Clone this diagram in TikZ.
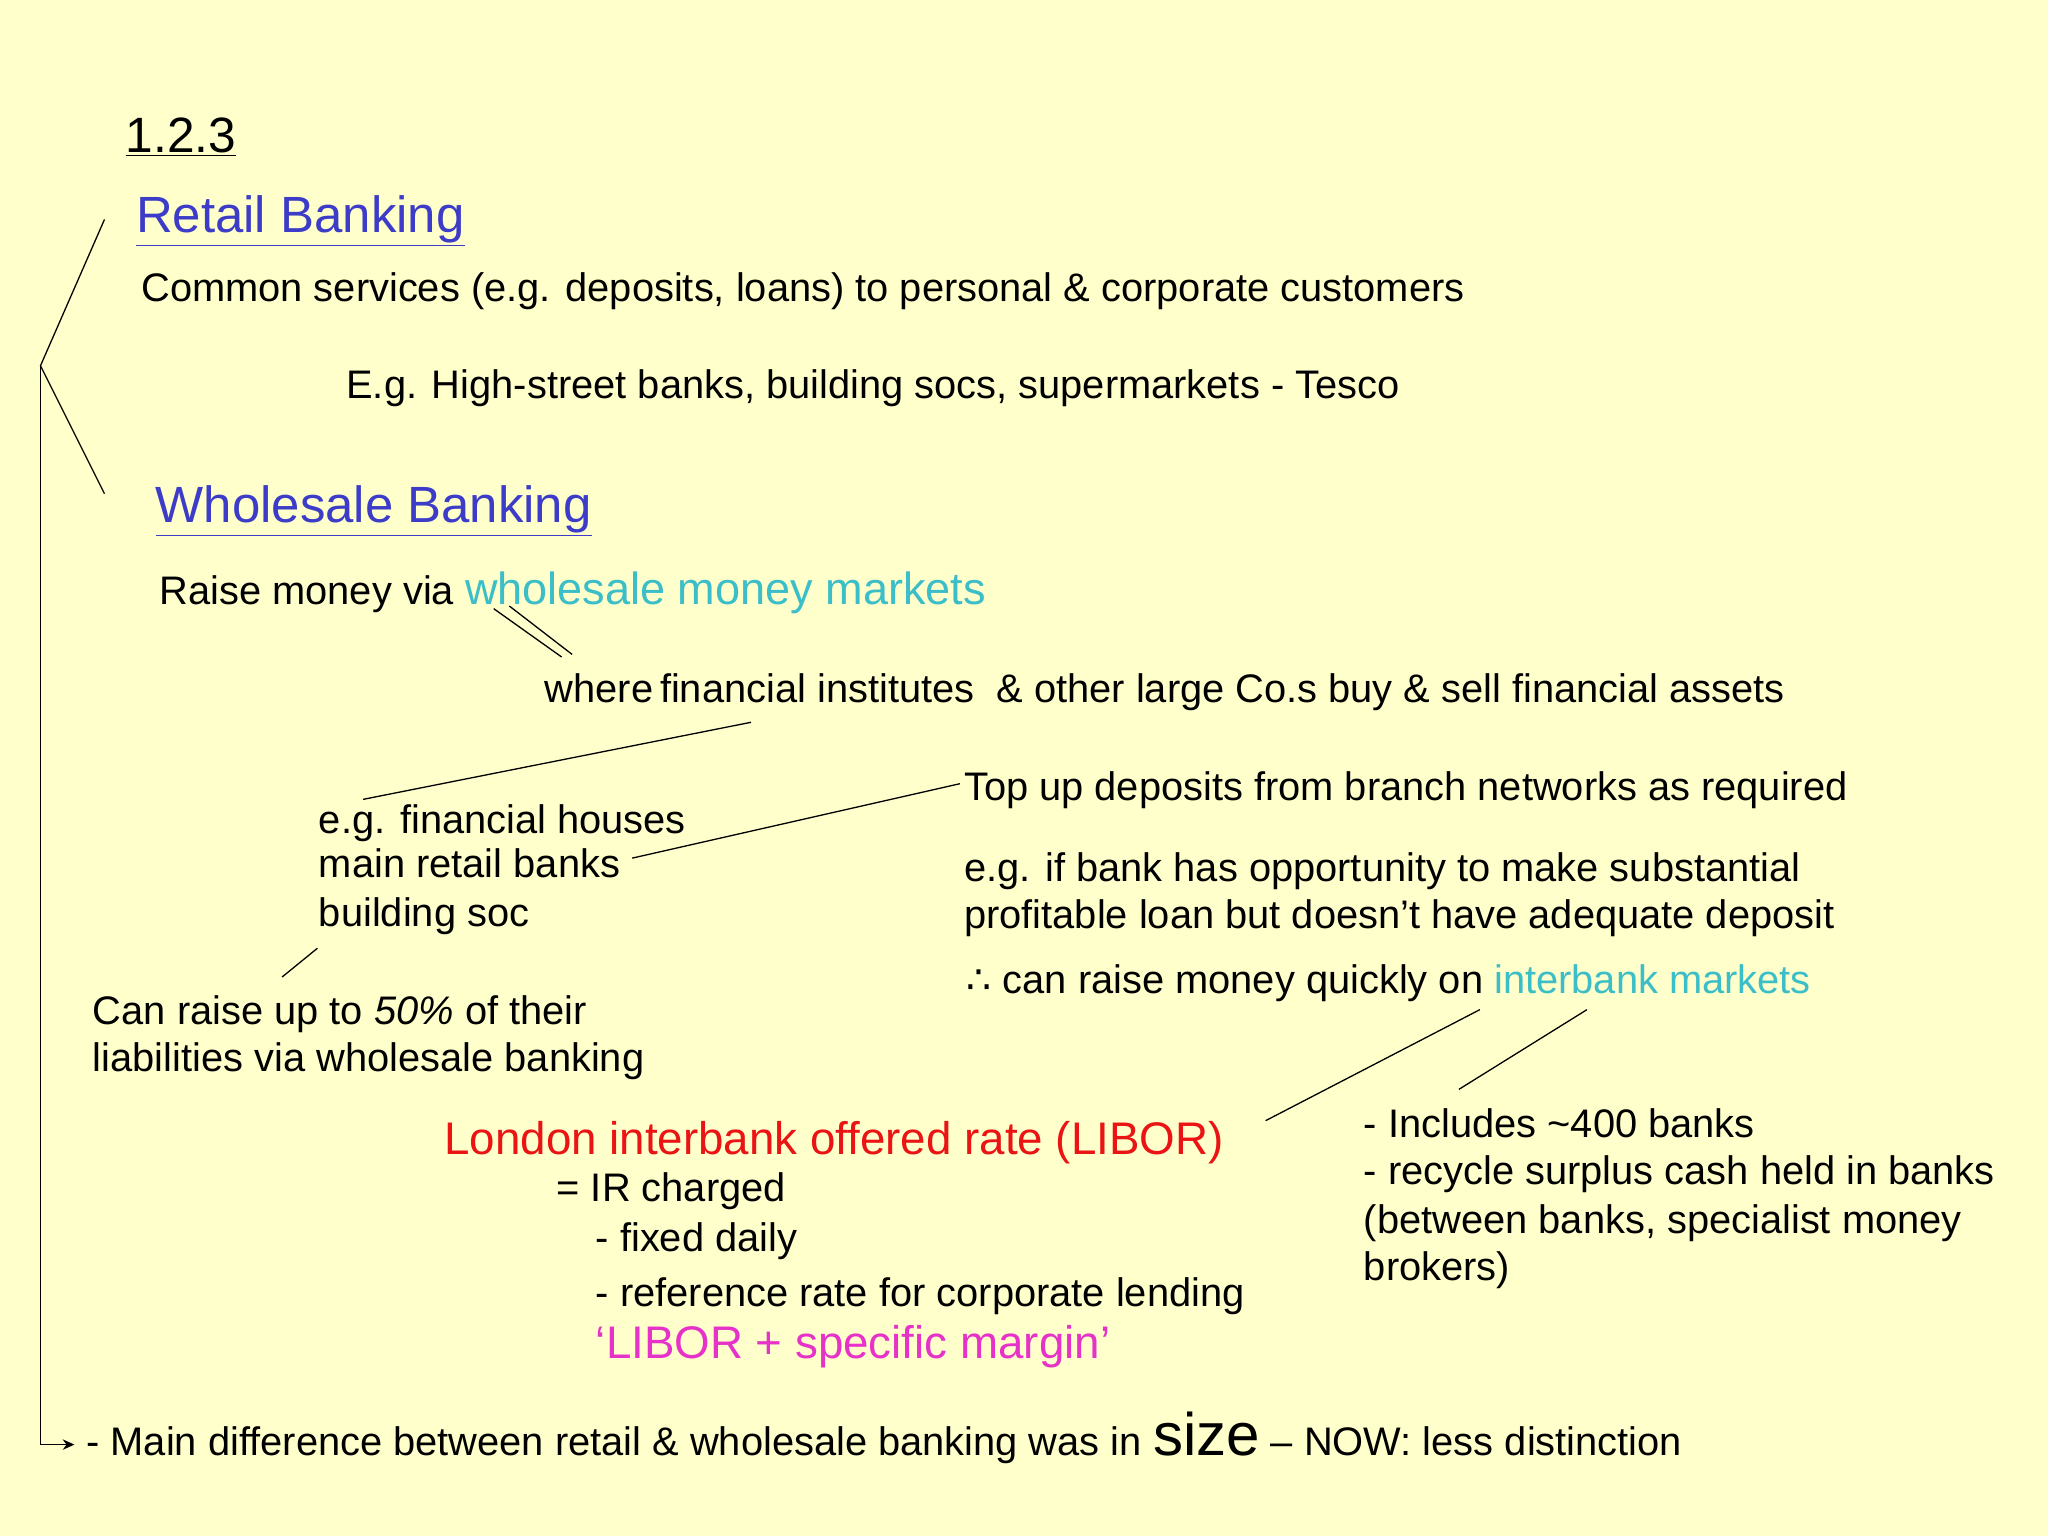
\documentclass[tikz,border=0pt]{standalone}
\usepackage{fontspec}
\usetikzlibrary{arrows.meta}
\setmainfont{Liberation Sans}
\newfontfamily\symf{DejaVu Sans}
\definecolor{bg}{RGB}{255,255,204}
\definecolor{hblue}{RGB}{60,60,200}
\definecolor{cy}{RGB}{60,190,200}
\definecolor{rd}{RGB}{235,20,20}
\definecolor{mg}{RGB}{230,50,200}
\begin{document}
\begin{tikzpicture}[x=1pt,y=-1pt,
  t/.style={anchor=base west,inner sep=0pt,font=\fontsize{30.5}{34}\selectfont},
  h/.style={anchor=base west,inner sep=0pt,font=\fontsize{39}{42}\selectfont,text=hblue},
  ln/.style={line width=1pt}]
\fill[bg] (0,0) rectangle (1568,1176);
\useasboundingbox (0,0) rectangle (1568,1176);
\node[t,font=\fontsize{38}{40}\selectfont] (n123) at (96,117) {\underline{1.2.3}};
\node[h] (ret) at (104,178) {\underline{Retail Banking}};
\node[t] (com) at (108,231) {Common services (e.g. deposits, loans) to personal \& corporate customers};
\node[t] (eg) at (265,305) {E.g. High-street banks, building socs, supermarkets - Tesco};
\node[h] (whl) at (119,400) {\underline{Wholesale Banking}};
\node[t] (rai) at (122,463) {Raise money via \textcolor{cy}{\fontsize{34.5}{36}\selectfont wholesale money markets}};
\node[t] (whe) at (417,538) {where\,financial institutes \ \& other large Co.s buy \& sell financial assets};
\node[t] (top) at (738,613) {Top up deposits from branch networks as required};
\node[t,align=left] (fh) at (244,638) {e.g. financial houses};
\node[t] (mr) at (244,672) {main retail banks};
\node[t] (bs) at (244,709) {building soc};
\node[t] (eb1) at (738,675) {e.g. if bank has opportunity to make substantial};
\node[t] (eb2) at (738,711) {profitable loan but doesn’t have adequate deposit};
\node[t] (cr) at (740,761) {{\symf\fontsize{30}{30}\selectfont ∴} can raise money quickly on \textcolor{cy}{interbank markets}};
\node[t] (cu1) at (71,784) {Can raise up to \textit{50\%} of their};
\node[t] (cu2) at (71,820) {liabilities via wholesale banking};
\node[t,text=rd,font=\fontsize{35}{38}\selectfont] (lib) at (340,884) {London interbank offered rate (LIBOR)};
\node[t] (ir) at (426,920) {= IR charged};
\node[t] (fd) at (456,958) {- fixed daily};
\node[t] (rr) at (456,1000) {- reference rate for corporate lending};
\node[t,text=mg,font=\fontsize{35}{38}\selectfont] (lm) at (456,1040) {‘LIBOR + specific margin’};
\node[t] (i1) at (1044,871) {- Includes \textasciitilde400 banks};
\node[t] (i2) at (1044,907) {- recycle surplus cash held in banks};
\node[t] (i3) at (1044,944) {(between banks, specialist money};
\node[t] (i4) at (1044,980) {brokers)};
\node[t] (mn) at (66,1114) {- Main difference between retail \& wholesale banking was in {\fontsize{46}{46}\selectfont size} – NOW: less distinction};
% connectors
\coordinate (a1) at (80,168); \coordinate (a2) at (31,280); \coordinate (a3) at (80,378);
\coordinate (a4) at (31,1106); \coordinate (a5) at (57,1106);
\draw[ln] (a1) -- (a2) -- (a3);
\draw[ln,-{Stealth[length=9pt,width=8pt]}] (a2) -- (a4) -- (a5);
\coordinate (d1) at (378,466); \coordinate (d2) at (430,503);
\coordinate (d3) at (390,464); \coordinate (d4) at (438,501);
\draw[ln] (d1) -- (d2); \draw[ln] (d3) -- (d4);
\coordinate (e1) at (278,612); \coordinate (e2) at (575,553);
\draw[ln] (e1) -- (e2);
\coordinate (f1) at (484,657); \coordinate (f2) at (735,600);
\draw[ln] (f1) -- (f2);
\coordinate (g1) at (216,748); \coordinate (g2) at (243,726);
\draw[ln] (g1) -- (g2);
\coordinate (k1) at (969,858); \coordinate (k2) at (1133,773);
\draw[ln] (k1) -- (k2);
\coordinate (m1) at (1117,834); \coordinate (m2) at (1215,773);
\draw[ln] (m1) -- (m2);
\end{tikzpicture}
\end{document}
